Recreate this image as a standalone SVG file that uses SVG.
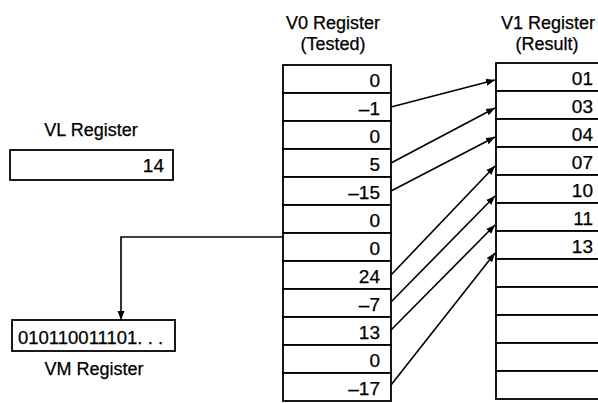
<svg xmlns="http://www.w3.org/2000/svg" width="598" height="403" viewBox="0 0 598 403">
<style>
text{font-family:"Liberation Sans",Arial,sans-serif;font-size:19px;fill:#000;stroke:#000;stroke-width:0.25}
.lbl{text-anchor:middle;font-size:18px}
.val{text-anchor:end}
.cell{fill:#fff;stroke:#000;stroke-width:1.8}
.conn{fill:none;stroke:#000;stroke-width:1.6}
</style>
<defs>
<marker id="ah" markerUnits="userSpaceOnUse" markerWidth="10" markerHeight="8" refX="9" refY="4" orient="auto">
<path d="M0,0.5 L9,4 L0,7.5 Z" fill="#000"/>
</marker>
</defs>
<rect width="598" height="403" fill="#fff"/>
<g id="vl">
<text class="lbl" x="91" y="136">VL Register</text>
<rect class="cell" x="10" y="150" width="163" height="30"/>
<text class="val" x="164" y="172">14</text>
</g>
<g id="vm">
<rect class="cell" x="12" y="320" width="163" height="31"/>
<text x="18" y="344" style="font-size:18.5px">010110011101. . .</text>
<text class="lbl" x="94" y="375">VM Register</text>
</g>
<g id="v0">
<text class="lbl" x="333" y="29">V0 Register</text>
<text class="lbl" x="333" y="50">(Tested)</text>
<rect class="cell" x="283" y="65" width="108" height="28"/>
<rect class="cell" x="283" y="93" width="108" height="28"/>
<rect class="cell" x="283" y="121" width="108" height="28"/>
<rect class="cell" x="283" y="149" width="108" height="28"/>
<rect class="cell" x="283" y="177" width="108" height="28"/>
<rect class="cell" x="283" y="205" width="108" height="28"/>
<rect class="cell" x="283" y="233" width="108" height="28"/>
<rect class="cell" x="283" y="261" width="108" height="28"/>
<rect class="cell" x="283" y="289" width="108" height="28"/>
<rect class="cell" x="283" y="317" width="108" height="28"/>
<rect class="cell" x="283" y="345" width="108" height="28"/>
<rect class="cell" x="283" y="373" width="108" height="28"/>
<text class="val" x="380" y="86.5">0</text>
<text class="val" x="380" y="114.5">–1</text>
<text class="val" x="380" y="142.5">0</text>
<text class="val" x="380" y="170.5">5</text>
<text class="val" x="380" y="198.5">–15</text>
<text class="val" x="380" y="226.5">0</text>
<text class="val" x="380" y="254.5">0</text>
<text class="val" x="380" y="282.5">24</text>
<text class="val" x="380" y="310.5">–7</text>
<text class="val" x="380" y="338.5">13</text>
<text class="val" x="380" y="366.5">0</text>
<text class="val" x="380" y="394.5">–17</text>
</g>
<g id="v1">
<text class="lbl" x="548" y="29">V1 Register</text>
<text class="lbl" x="547" y="50">(Result)</text>
<rect class="cell" x="496" y="63" width="110" height="28"/>
<rect class="cell" x="496" y="91" width="110" height="28"/>
<rect class="cell" x="496" y="119" width="110" height="28"/>
<rect class="cell" x="496" y="147" width="110" height="28"/>
<rect class="cell" x="496" y="175" width="110" height="28"/>
<rect class="cell" x="496" y="203" width="110" height="28"/>
<rect class="cell" x="496" y="231" width="110" height="28"/>
<rect class="cell" x="496" y="259" width="110" height="28"/>
<rect class="cell" x="496" y="287" width="110" height="28"/>
<rect class="cell" x="496" y="315" width="110" height="28"/>
<rect class="cell" x="496" y="343" width="110" height="28"/>
<rect class="cell" x="496" y="371" width="110" height="28"/>
<text class="val" x="593" y="84.5">01</text>
<text class="val" x="593" y="112.5">03</text>
<text class="val" x="593" y="140.5">04</text>
<text class="val" x="593" y="168.5">07</text>
<text class="val" x="593" y="196.5">10</text>
<text class="val" x="593" y="224.5">11</text>
<text class="val" x="593" y="252.5">13</text>
</g>
<g id="connectors">
<path class="conn" d="M283,237 H121 V320" marker-end="url(#ah)"/>
<line class="conn" x1="391" y1="107" x2="495" y2="80" marker-end="url(#ah)"/>
<line class="conn" x1="391" y1="163" x2="495" y2="108" marker-end="url(#ah)"/>
<line class="conn" x1="391" y1="191" x2="495" y2="137" marker-end="url(#ah)"/>
<line class="conn" x1="391" y1="275" x2="495" y2="166" marker-end="url(#ah)"/>
<line class="conn" x1="391" y1="302" x2="495" y2="196" marker-end="url(#ah)"/>
<line class="conn" x1="391" y1="330" x2="495" y2="225" marker-end="url(#ah)"/>
<line class="conn" x1="391" y1="385" x2="495" y2="253" marker-end="url(#ah)"/>
</g>
</svg>
